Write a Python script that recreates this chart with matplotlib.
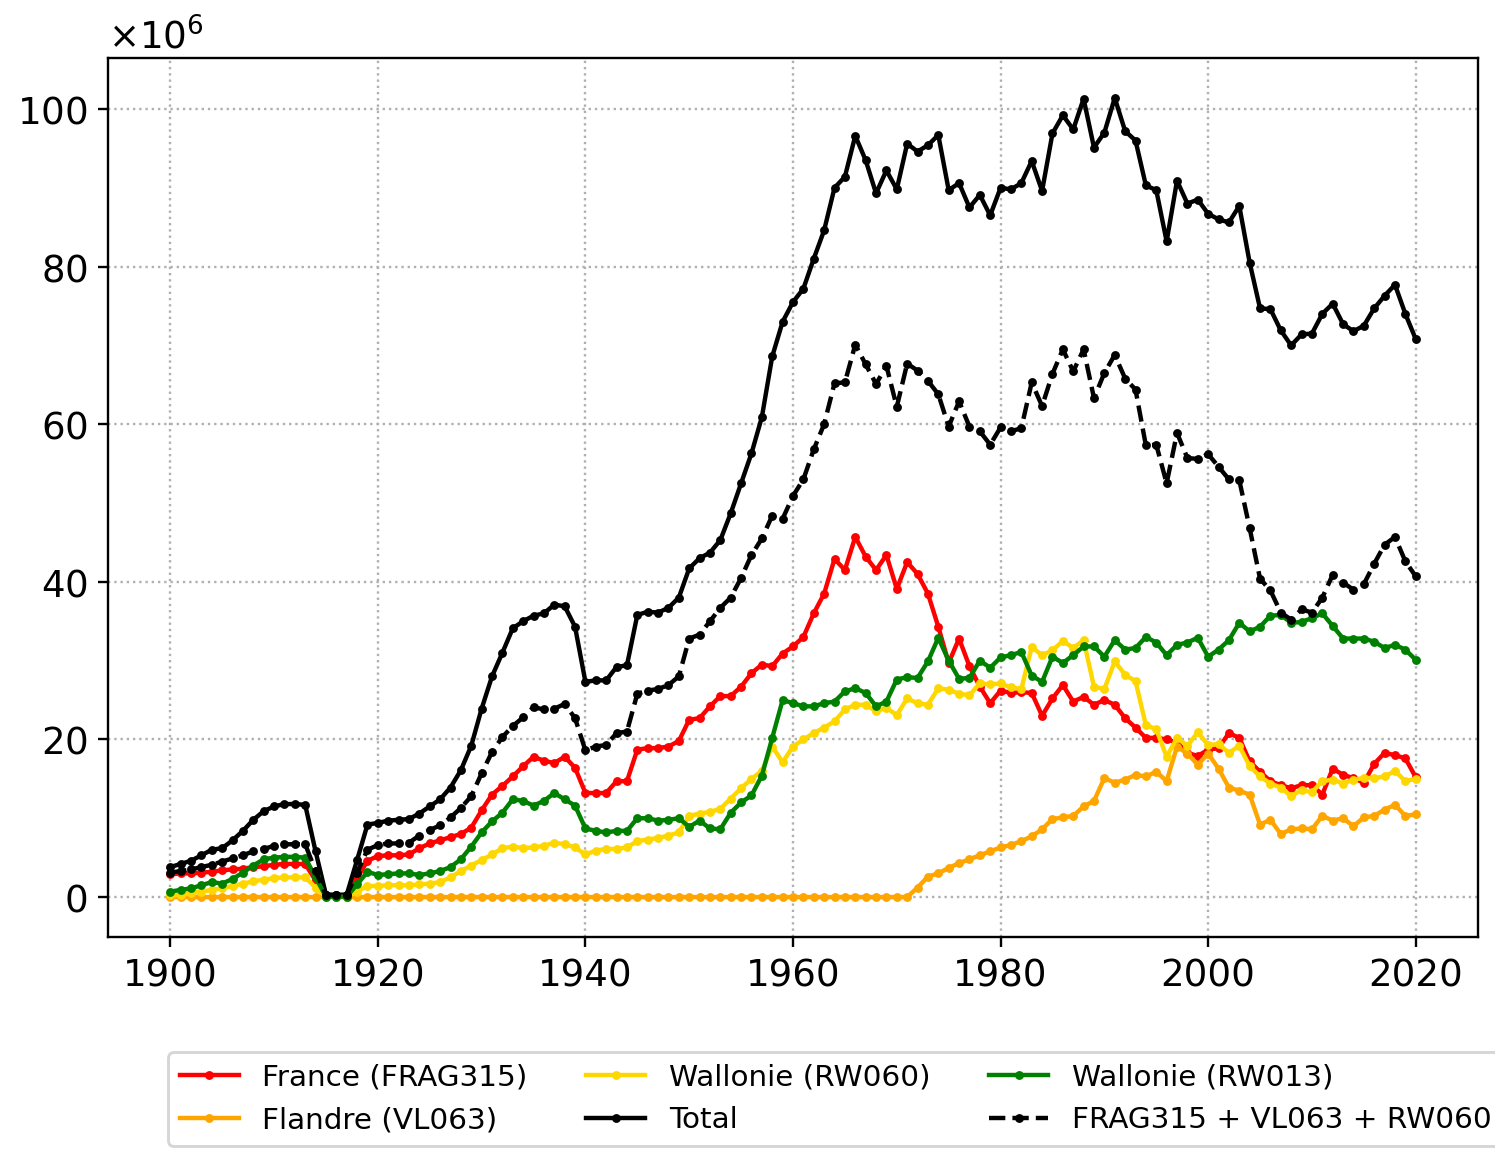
import numpy as np
import matplotlib
matplotlib.use('Agg')
from matplotlib import pyplot as plt

years = np.arange(1900, 2021)

# Values in millions
france = [2.9, 3.0, 3.0, 3.1, 3.2, 3.4, 3.5, 3.6, 3.8, 3.9,
          4.1, 4.2, 4.2, 4.2, 2.1, 0.2, 0.2, 0.2, 2.4, 4.6,
          5.2, 5.3, 5.3, 5.4, 6.2, 6.8, 7.2, 7.6, 8.0, 8.8,
          11.0, 13.0, 14.1, 15.3, 16.6, 17.8, 17.3, 17.0, 17.8, 16.4,
          13.2, 13.2, 13.2, 14.7, 14.7, 18.7, 18.9, 18.9, 19.1, 19.8,
          22.5, 22.7, 24.2, 25.5, 25.5, 26.7, 28.4, 29.5, 29.3, 30.9,
          31.8, 33.0, 36.0, 38.5, 42.9, 41.5, 45.7, 43.2, 41.5, 43.4,
          39.1, 42.5, 41.0, 38.5, 34.3, 29.7, 32.8, 29.3, 26.7, 24.6,
          26.2, 25.9, 26.0, 25.9, 23.0, 25.2, 26.9, 24.8, 25.4, 24.4,
          25.0, 24.4, 22.7, 21.5, 20.2, 20.2, 20.0, 19.6, 18.3, 17.9,
          18.7, 18.9, 20.8, 20.2, 17.2, 15.9, 14.7, 14.2, 13.8, 14.2,
          14.2, 13.0, 16.3, 15.5, 15.1, 14.5, 16.9, 18.3, 18.0, 17.6,
          15.2]

flandre = [0.0] * 72 + [
    1.2, 2.6, 3.0, 3.7, 4.3, 4.8, 5.3, 5.8,
    6.3, 6.6, 7.1, 7.7, 8.6, 9.9, 10.1, 10.3, 11.5, 12.2,
    15.1, 14.5, 14.9, 15.5, 15.3, 15.9, 14.7, 19.1, 18.2, 16.8,
    18.2, 16.3, 13.9, 13.5, 13.0, 9.2, 9.8, 8.0, 8.6, 8.7,
    8.6, 10.3, 9.7, 10.0, 9.0, 10.1, 10.3, 11.1, 11.7, 10.3,
    10.5]

rw060 = [0.2, 0.3, 0.5, 0.7, 0.9, 1.1, 1.4, 1.7, 2.0, 2.2,
         2.4, 2.5, 2.5, 2.5, 1.2, 0.05, 0.05, 0.05, 0.7, 1.4,
         1.4, 1.5, 1.5, 1.5, 1.6, 1.7, 1.9, 2.5, 3.3, 4.0,
         4.7, 5.4, 6.2, 6.4, 6.2, 6.3, 6.5, 6.9, 6.7, 6.3,
         5.4, 5.9, 6.1, 6.1, 6.3, 7.1, 7.3, 7.5, 7.8, 8.2,
         10.3, 10.6, 10.8, 11.2, 12.5, 13.8, 15.0, 16.0, 19.1, 17.1,
         19.1, 20.0, 20.8, 21.5, 22.3, 23.8, 24.4, 24.4, 23.6, 24.0,
         23.1, 25.2, 24.6, 24.4, 26.5, 26.3, 25.8, 25.6, 27.1, 27.0,
         27.1, 26.6, 26.4, 31.7, 30.7, 31.3, 32.5, 31.6, 32.6, 26.7,
         26.4, 29.9, 28.2, 27.4, 21.8, 21.3, 17.8, 20.2, 19.2, 20.9,
         19.3, 19.4, 18.3, 19.2, 16.6, 15.3, 14.4, 13.9, 12.8, 13.6,
         13.3, 14.7, 14.9, 14.4, 14.9, 15.1, 15.1, 15.3, 16.0, 14.7,
         15.0]

rw013 = [0.7, 0.9, 1.1, 1.5, 1.9, 1.7, 2.3, 3.1, 4.0, 4.8,
         5.0, 5.1, 5.1, 5.0, 2.5, 0.05, 0.05, 0.05, 1.6, 3.2,
         2.8, 2.9, 3.0, 3.0, 2.8, 3.0, 3.3, 3.8, 4.8, 6.4,
         8.2, 9.6, 10.7, 12.4, 12.2, 11.6, 12.2, 13.2, 12.4, 11.6,
         8.7, 8.4, 8.2, 8.4, 8.4, 10.0, 10.0, 9.7, 9.8, 10.0,
         8.9, 9.7, 8.7, 8.6, 10.7, 12.0, 12.9, 15.4, 20.2, 25.0,
         24.6, 24.2, 24.2, 24.6, 24.8, 26.1, 26.5, 25.9, 24.2, 24.8,
         27.6, 27.9, 27.8, 29.9, 32.9, 30.0, 27.7, 27.8, 30.0, 29.1,
         30.4, 30.7, 31.1, 28.1, 27.3, 30.5, 29.7, 30.7, 31.8, 31.8,
         30.5, 32.6, 31.4, 31.6, 33.0, 32.3, 30.7, 32.0, 32.3, 32.9,
         30.5, 31.4, 32.6, 34.8, 33.7, 34.3, 35.7, 35.8, 34.8, 34.9,
         35.4, 36.0, 34.4, 32.8, 32.8, 32.8, 32.4, 31.6, 32.0, 31.4,
         30.1]

fr = np.array(france) * 1e6
vl = np.array(flandre) * 1e6
w60 = np.array(rw060) * 1e6
w13 = np.array(rw013) * 1e6
total = fr + vl + w60 + w13
partial = fr + vl + w60

fig = plt.figure(figsize=(1495 / 212, 1149 / 212), dpi=212)
ax = fig.add_axes([108 / 1495, 1 - 937 / 1149, 1370 / 1495, 879 / 1149])

ms = 4
ax.plot(years, fr, '.-', color='red', ms=ms, label='France (FRAG315)')
ax.plot(years, vl, '.-', color='orange', ms=ms, label='Flandre (VL063)')
ax.plot(years, w60, '.-', color='gold', ms=ms, label='Wallonie (RW060)')
ax.plot(years, total, '.-', color='black', ms=ms, label='Total')
ax.plot(years, w13, '.-', color='green', ms=ms, label='Wallonie (RW013)')
ax.plot(years, partial, '.--', color='black', ms=ms,
        label='FRAG315 + VL063 + RW060')

ax.set_xticks(np.arange(1900, 2021, 20))
ax.ticklabel_format(axis='y', style='sci', scilimits=(6, 6), useMathText=True)
ax.tick_params(labelsize=12.6)
ax.yaxis.get_offset_text().set_fontsize(12.6)
ax.grid(True, linestyle=':')

fig.legend(loc='upper left', bbox_to_anchor=(168 / 1495, 1 - 1052 / 1149),
           ncol=3, fontsize=10, borderaxespad=0)

plt.savefig('out.png', dpi=212)
